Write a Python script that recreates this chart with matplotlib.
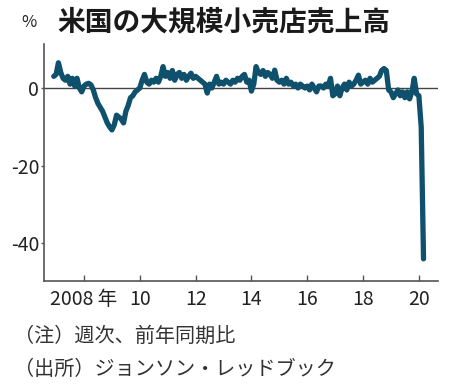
import numpy as np
import matplotlib
matplotlib.use('Agg')
import matplotlib.pyplot as plt

plt.rcParams['font.family'] = ['Noto Sans CJK JP', 'DejaVu Sans']

# monthly readings of the weekly series, starting Dec 2006 (% yoy)
start_year = 2006 + 11/12
v2006 = [3.0]
v2007 = [3.5, 6.5, 4.0, 2.5, 2.0, 3.0, 1.0, 2.5, 0.5, 2.5, 0.0, -1.0]
v2008 = [0.5, 1.0, 1.2, 0.8, -0.5, -2.5, -4.0, -5.0, -6.0, -7.5, -9.0, -10.0]
v2009 = [-10.8, -9.5, -7.0, -7.5, -8.0, -9.0, -6.0, -4.5, -2.5, -2.0, -1.0, -0.5]
v2010 = [0.0, 2.0, 3.5, 1.5, 1.0, 2.0, 1.5, 2.5, 1.5, 3.0, 5.5, 3.0]
v2011 = [4.0, 2.5, 4.5, 2.0, 3.5, 4.0, 2.5, 3.5, 2.0, 3.0, 3.8, 2.5]
v2012 = [3.0, 2.5, 2.0, 1.5, 1.0, -1.3, 1.0, 0.0, 1.5, 3.0, 1.0, 1.5]
v2013 = [1.0, 2.0, 1.5, 1.0, 2.0, 1.5, 2.5, 2.0, 3.0, 3.5, 1.5, 2.0]
v2014 = [-0.8, 1.0, 5.5, 4.0, 3.5, 4.5, 3.0, 4.0, 3.5, 2.5, 4.6, 2.0]
v2015 = [1.5, 2.0, 1.0, 2.5, 1.0, 1.5, 0.5, 1.0, 0.0, 1.0, 0.5, 0.0]
v2016 = [0.5, -0.5, 1.0, 0.0, -1.0, 0.5, 0.5, 0.0, 1.0, 0.5, 2.5, -2.0]
v2017 = [-1.5, 0.5, -2.0, 0.0, 1.0, -0.5, 1.5, 0.5, 1.0, 2.0, 3.3, 1.0]
v2018 = [1.5, 2.0, 1.0, 2.5, 1.5, 2.0, 2.5, 3.0, 4.5, 5.0, 4.5, -0.5]
v2019 = [-1.0, -2.5, -1.5, -0.5, -2.0, -1.0, -2.5, -1.0, -2.8, -1.0, 2.5, -1.5]
v2020 = [-2.0, -10.0, -44.0]

values = np.array(v2006 + v2007 + v2008 + v2009 + v2010 + v2011 + v2012 +
                  v2013 + v2014 + v2015 + v2016 + v2017 + v2018 + v2019 + v2020)
dates = start_year + np.arange(len(values)) / 12

xticks = [2008, 2010, 2012, 2014, 2016, 2018, 2020]
xlabels = ['2008 年', '10', '12', '14', '16', '18', '20']
yticks = [0, -20, -40]

fig = plt.figure(figsize=(4.5, 3.87), dpi=100)
ax = fig.add_axes([0.098, 0.274, 0.875, 0.612])

ax.axhline(0, color='#444444', lw=1.0, zorder=1)
ax.plot(dates, values, color='#0f506c', lw=3.8, solid_joinstyle='round',
        solid_capstyle='round', zorder=2)

ax.set_xlim(2006.57, 2020.68)
ax.set_ylim(-49.7, 11.3)

ax.spines['top'].set_visible(False)
ax.spines['right'].set_visible(False)
for s in ['left', 'bottom']:
    ax.spines[s].set_color('#555555')
    ax.spines[s].set_linewidth(1.2)

tickfont = ['Liberation Sans Narrow', 'Noto Sans CJK JP', 'DejaVu Sans']
ax.set_xticks(xticks)
ax.set_xticklabels(xlabels, family=tickfont, fontsize=14, color='#222222')
ax.set_yticks(yticks)
ax.set_yticklabels([str(t) for t in yticks], family=tickfont, fontsize=14,
                   color='#222222')
ax.tick_params(axis='x', direction='in', length=4, width=1, color='#555555', pad=6)
ax.tick_params(axis='y', direction='out', length=2.5, width=1, color='#555555', pad=1)

fig.text(0.048, 0.943, '%', fontsize=12, color='#222222', va='center')
fig.text(0.128, 0.943, '米国の大規模小売店売上高', fontsize=20, fontweight='bold',
         color='#1a1a1a', va='center')
fig.text(0.030, 0.132, '（注）週次、前年同期比', fontsize=14.5, color='#333333',
         va='center')
fig.text(0.030, 0.044, '（出所）ジョンソン・レッドブック', fontsize=14.5,
         color='#333333', va='center')

fig.savefig('out.png', dpi=100)
